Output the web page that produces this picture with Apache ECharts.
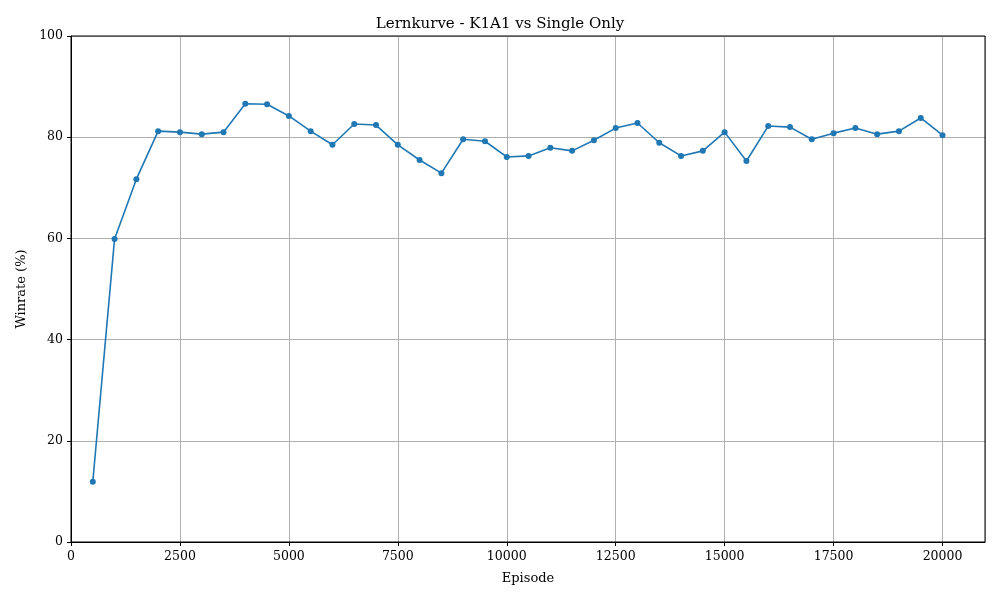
<!DOCTYPE html>
<html><head><meta charset="utf-8">
<script src="https://cdn.jsdelivr.net/npm/echarts@6/dist/echarts.min.js"></script>
<style>html,body{margin:0;padding:0;background:#fff}#c{width:1000px;height:600px}</style>
</head><body><div id="c"></div>
<script>
const episodes = [500,1000,1500,2000,2500,3000,3500,4000,4500,5000,5500,6000,6500,7000,7500,8000,8500,9000,9500,10000,10500,11000,11500,12000,12500,13000,13500,14000,14500,15000,15500,16000,16500,17000,17500,18000,18500,19000,19500,20000];
const winrate = [11.9,59.9,71.7,81.2,81.0,80.6,81.0,86.6,86.5,84.2,81.2,78.5,82.6,82.4,78.5,75.5,72.9,79.6,79.2,76.1,76.3,77.9,77.3,79.4,81.8,82.8,78.9,76.3,77.3,81.0,75.3,82.2,82.0,79.6,80.8,81.8,80.6,81.2,83.8,80.4];
const F = 'DejaVu Serif';
const chart = echarts.init(document.getElementById('c'));
chart.setOption({
  animation:false,
  title:{text:'Lernkurve - K1A1 vs Single Only',left:'center',top:12,textStyle:{fontFamily:F,fontSize:15,fontWeight:'normal',color:'#000'}},
  grid:{left:71,right:15,top:36,bottom:58,show:true,borderColor:'#000',borderWidth:1,z:5},
  xAxis:{type:'value',min:0,max:20975,interval:2500,name:'Episode',nameLocation:'middle',nameGap:30,
    nameTextStyle:{fontFamily:F,fontSize:13,color:'#000'},
    axisLine:{show:true,lineStyle:{color:'#000'}},axisTick:{show:true,length:4,lineStyle:{color:'#000'}},
    axisLabel:{fontFamily:F,fontSize:12.5,color:'#000',showMaxLabel:false,formatter:v=>String(v)},
    splitLine:{show:true,lineStyle:{color:'#b0b0b0'}}},
  yAxis:{type:'value',min:0,max:100,interval:20,name:'Winrate (%)',nameLocation:'middle',nameGap:40,
    nameTextStyle:{fontFamily:F,fontSize:13,color:'#000'},
    axisLine:{show:true,lineStyle:{color:'#000'}},axisTick:{show:true,length:4,lineStyle:{color:'#000'}},
    axisLabel:{fontFamily:F,fontSize:12.5,color:'#000'},
    splitLine:{show:true,lineStyle:{color:'#b0b0b0'}}},
  series:[{type:'line',data:episodes.map((e,i)=>[e,winrate[i]]),symbol:'circle',symbolSize:6,
    lineStyle:{color:'#1f77b4',width:1.6},itemStyle:{color:'#1f77b4'}}]
});
</script></body></html>
